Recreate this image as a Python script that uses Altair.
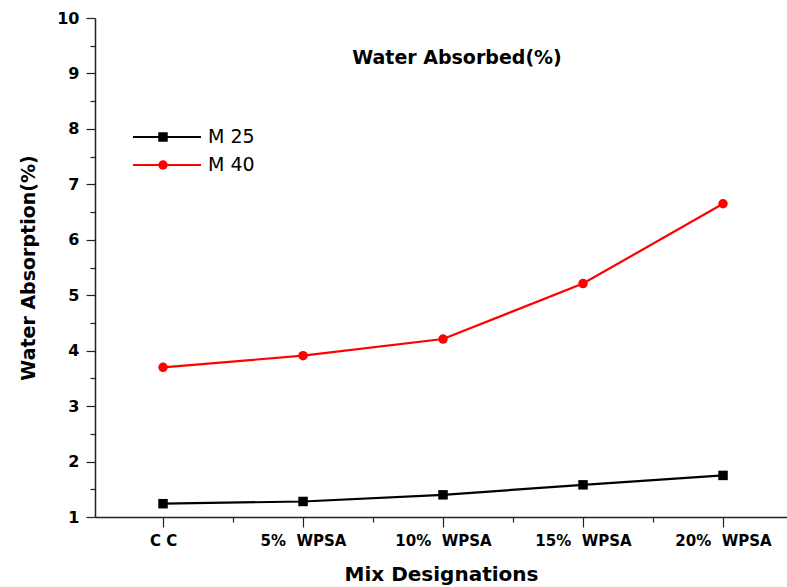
import altair as alt
import pandas as pd

# Mix designations (x categories) and measured water absorption (%)
mixes = ["C\u00a0C", "5%\u00a0 WPSA", "10%\u00a0 WPSA", "15%\u00a0 WPSA", "20%\u00a0 WPSA"]
m25 = [1.24, 1.28, 1.40, 1.58, 1.75]
m40 = [3.70, 3.91, 4.21, 5.21, 6.65]
series = ["M 25", "M 40"]
colors = ["#000000", "#ff0000"]
shapes = ["square", "circle"]

rows = []
for name, vals in zip(series, [m25, m40]):
    for i, v in enumerate(vals):
        rows.append({"pos": i, "mix": mixes[i], "series": name, "value": v})
df = pd.DataFrame(rows)

FONT = "DejaVu Sans"
W, H = 692, 499

label_expr = "datum.value % 1 === 0 ? " + str(mixes) + "[datum.value] : ''"

x = alt.X(
    "pos:Q",
    scale=alt.Scale(domain=[-0.486, 4.457], nice=False, zero=False),
    axis=alt.Axis(
        title="Mix Designations",
        values=[0, 0.5, 1, 1.5, 2, 2.5, 3, 3.5, 4],
        labelExpr=label_expr,
        grid=False,
        tickSize={"condition": {"test": "datum.value % 1 !== 0", "value": 5}, "value": 10},
        labelFont=FONT, labelFontSize=15, labelFontWeight="bold", labelColor="#000",
        labelPadding=6,
        titleFont=FONT, titleFontSize=20, titleFontWeight="bold", titleColor="#000",
        titlePadding=16,
        domainColor="#222", domainWidth=1.5, tickColor="#222", tickWidth=1.2,
    ),
)
y = alt.Y(
    "value:Q",
    scale=alt.Scale(domain=[1, 10], nice=False, zero=False),
    axis=alt.Axis(
        title="Water Absorption(%)",
        values=[v / 2 for v in range(2, 21)],
        labelExpr="datum.value % 1 === 0 ? format(datum.value, 'd') : ''",
        grid=False,
        tickSize={"condition": {"test": "datum.value % 1 !== 0", "value": 5}, "value": 9},
        labelFont=FONT, labelFontSize=16, labelFontWeight="bold", labelColor="#000",
        labelPadding=7,
        titleFont=FONT, titleFontSize=19, titleFontWeight="bold", titleColor="#000",
        titlePadding=18,
        domainColor="#222", domainWidth=1.5, tickColor="#222", tickWidth=1.2,
    ),
)
color = alt.Color("series:N", scale=alt.Scale(domain=series, range=colors), legend=None)
shape = alt.Shape("series:N", scale=alt.Scale(domain=series, range=shapes), legend=None)

base = alt.Chart(df)
lines = base.mark_line(strokeWidth=2.2).encode(x=x, y=y, color=color, detail="series:N")
points = base.mark_point(filled=True, opacity=1, size=90).encode(x=x, y=y, color=color, shape=shape)

title = alt.Chart(pd.DataFrame({"t": ["Water Absorbed(%)"]})).mark_text(
    font=FONT, fontSize=19, fontWeight="bold", color="#000", align="center", baseline="middle"
).encode(text="t:N", x=alt.value(362), y=alt.value(40))

# Hand-built legend: line with marker, then the series name
legend_layers = []
for i, name in enumerate(series):
    ly = 119 + 28 * i
    one = pd.DataFrame({"s": [name]})
    legend_layers.append(
        alt.Chart(one).mark_rule(color=colors[i], strokeWidth=2.2).encode(
            x=alt.value(38), x2=alt.value(106), y=alt.value(ly)
        )
    )
    legend_layers.append(
        alt.Chart(one).mark_point(filled=True, opacity=1, size=90, shape=shapes[i], color=colors[i]).encode(
            x=alt.value(68), y=alt.value(ly)
        )
    )
    legend_layers.append(
        alt.Chart(one).mark_text(font=FONT, fontSize=19, color="#000", align="left", baseline="middle").encode(
            text="s:N", x=alt.value(113), y=alt.value(ly)
        )
    )

chart = (
    alt.layer(lines, points, title, *legend_layers)
    .properties(
        width=W,
        height=H,
        autosize=alt.AutoSizeParams(type="none"),
        padding={"left": 95, "top": 18, "right": 0, "bottom": 70},
        background="white",
    )
    .configure_view(stroke=None)
)

chart.save("out.html", embed_options={"renderer": "svg", "actions": False})
